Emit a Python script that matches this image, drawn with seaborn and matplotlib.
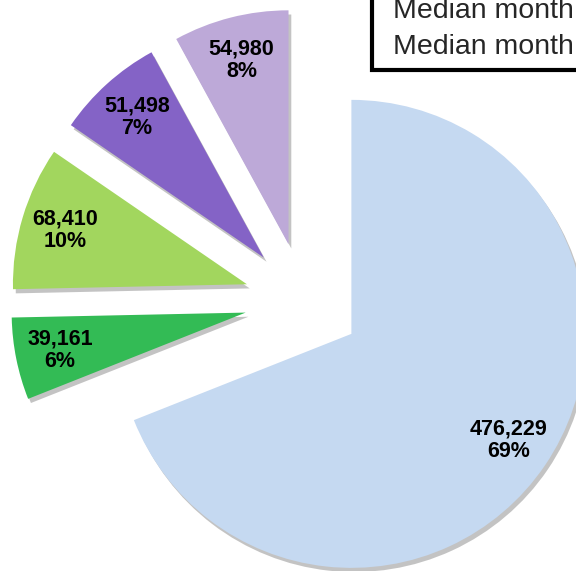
import matplotlib.pyplot as plt
import matplotlib.patches as mpatches
import matplotlib.patheffects as pe
import seaborn as sns

# slice values, clockwise from 12 o'clock
values = [476229, 39161, 68410, 51498, 54980]
slice_colors = ['#c5d9f1', '#33bb55', '#a2d65e', '#8463c6', '#bda9d8']
legend_lines = ['Median month', 'Median month']

sns.set_theme(style='white')
plt.rcParams['font.family'] = ['Liberation Sans', 'DejaVu Sans']

fig = plt.figure(figsize=(5.76, 5.71), dpi=100)
ax = fig.add_axes([0, 0, 1, 1])
total = sum(values)


def fmt(pct):
    v = int(round(pct * total / 100))
    return f'{v:,}\n{pct:.0f}%'


wedges, texts, autotexts = ax.pie(
    values, colors=slice_colors, explode=[0.25] * len(values),
    startangle=90, counterclock=False, autopct=fmt, pctdistance=0.81,
    wedgeprops=dict(linewidth=0),
    textprops=dict(fontsize=15.5, fontweight='bold', color='black', linespacing=1.1),
)
# soft drop shadow like the office bevel style
for w in wedges:
    w.set_path_effects([pe.SimplePatchShadow(offset=(2, -3), shadow_rgbFace='#555555', alpha=0.35),
                        pe.Normal()])

# the chart is a crop: pie centre at (303, 301) px, radius 234 px
ax.set_xlim(-303 / 234, 273 / 234)
ax.set_ylim(-270 / 234, 301 / 234)
ax.set_aspect('auto')

# boxed text in the top right, cut off by the figure edge
box = mpatches.Rectangle((372 / 576, 1 - 70 / 571), 0.5, 0.5, transform=fig.transFigure,
                         facecolor='white', edgecolor='black', linewidth=3, clip_on=False)
fig.patches.append(box)
fig.text(393 / 576, 1 - 18 / 571, legend_lines[0], fontsize=20.5, va='baseline', ha='left')
fig.text(393 / 576, 1 - 54 / 571, legend_lines[1], fontsize=20.5, va='baseline', ha='left')

fig.savefig('out.png', dpi=100)
